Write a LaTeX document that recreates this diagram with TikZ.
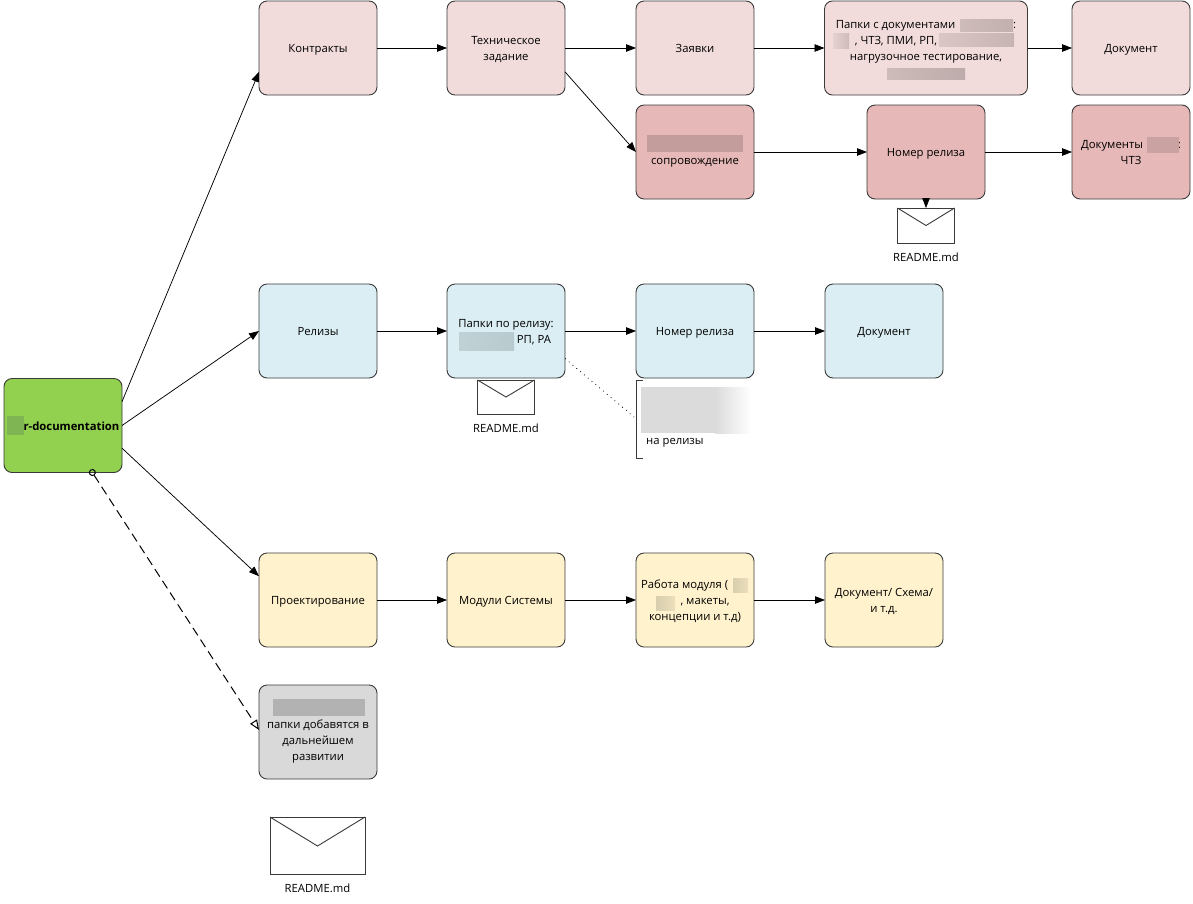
\documentclass[tikz,border=0pt]{standalone}
\usepackage{fontspec}
\setmainfont{Open Sans}
\usetikzlibrary{arrows.meta}
\definecolor{cpink}{HTML}{F2DCDB}
\definecolor{crose}{HTML}{E6B8B7}
\definecolor{cblue}{HTML}{DAEEF3}
\definecolor{cyell}{HTML}{FFF2CC}
\definecolor{cgreen}{HTML}{92D050}
\definecolor{cgrey}{HTML}{D9D9D9}
\definecolor{cline}{HTML}{3A3A3A}
\definecolor{cblurg}{HTML}{80B553}
\newcommand\ls{\rule[-2.8pt]{0pt}{15pt}}
\lineskiplimit=-100pt
\tikzset{
  txt/.style={font=\fontsize{11.3}{16}\selectfont,align=center,text=black},
  box/.style={txt,draw=cline,line width=0.9pt,rounded corners=8pt,minimum width=118pt,minimum height=94pt,inner sep=0pt,outer sep=0pt},
  pinkbox/.style={box,fill=cpink},
  rosebox/.style={box,fill=crose},
  bluebox/.style={box,fill=cblue},
  yellbox/.style={box,fill=cyell},
  greybox/.style={box,fill=cgrey},
  greenbox/.style={box,fill=cgreen,font=\fontsize{11.3}{16}\selectfont\bfseries},
  conn/.style={draw=black,line width=0.75pt,-{Triangle[length=10pt,width=7.5pt]}},
  env/.style={draw=cline,line width=0.9pt,fill=white,inner sep=0pt,outer sep=0pt},
  lab/.style={txt,inner sep=0pt},
  blur/.style={inner sep=0pt,outer sep=0pt}
}
\begin{document}
\begin{tikzpicture}[x=1pt,y=-1pt]
\useasboundingbox (0,0) rectangle (1193,903);
% nodes
\node[greenbox] (root) at (63,425.5) {\ls\hspace*{17pt}r-documentation};
\node[pinkbox] (contr) at (318,48) {\ls Контракты};
\node[pinkbox] (tz) at (506,48) {\ls Техническое\\\ls задание};
\node[pinkbox] (zay) at (695,48) {\ls Заявки};
\node[pinkbox,minimum width=203pt] (pap) at (926,48) {\ls Папки с документами \hspace*{55pt}:\\\ls\hspace*{16pt}, ЧТЗ, ПМИ, РП,\hspace*{76pt}\mbox{}\\\ls нагрузочное тестирование,\\\ls};
\node[pinkbox] (doc) at (1131,48) {\ls Документ};
\node[rosebox] (sop) at (695,152) {\ls\\\ls сопровождение};
\node[rosebox] (nr1) at (926,152) {\ls Номер релиза};
\node[rosebox] (doc2) at (1131,152) {\ls Документы \hspace*{32pt}:\\\ls ЧТЗ};
\node[bluebox] (rel) at (318,331) {\ls Релизы};
\node[bluebox] (prel) at (506,331) {\ls Папки по релизу:\\\ls\hspace*{56pt}РП, РА};
\node[bluebox] (nr2) at (695,331) {\ls Номер релиза};
\node[bluebox] (doc3) at (884,331) {\ls Документ};
\node[yellbox] (proj) at (318,600) {\ls Проектирование};
\node[yellbox] (mod) at (506,600) {\ls Модули Системы};
\node[yellbox] (work) at (695,600) {\ls Работа модуля (\hspace*{18pt},\\\ls\hspace*{20pt}, макеты,\\\ls концепции и т.д)};
\node[yellbox] (doc4) at (884,600) {\ls Документ/ Схема/\\\ls и т.д.};
\node[greybox] (later) at (318,732) {\ls\\\ls папки добавятся в\\\ls дальнейшем\\\ls развитии};
% blurred patches
\fill[blur,color=cblurg] (7,416) rectangle (24,435);
\fill[blur,left color=cpink!85!black,right color=cpink!80!black] (960,19) rectangle (1013,31);
\fill[blur,left color=cpink!95!black,right color=cpink!85!black] (833,33) rectangle (849,48);
\fill[blur,left color=cpink!90!black,right color=cpink!82!black] (939,33) rectangle (1014,46);
\fill[blur,left color=cpink!85!black,right color=cpink!78!black] (887,68) rectangle (965,79);
\fill[blur,color=crose!88!black] (1147,137) rectangle (1179,153);
\fill[blur,color=crose!85!black] (647,135) rectangle (743,152);
\fill[blur,left color=cblue!88!black,right color=cblue!85!black] (459,332) rectangle (514,350);
\fill[blur,left color=cyell!85!black,right color=cyell!92!black] (733,578) rectangle (748,592);
\fill[blur,left color=cyell!85!black,right color=cyell!92!black] (656,596) rectangle (675,610);
\fill[blur,color=cgrey!82!black] (273,699) rectangle (365,716);
\fill[blur,color=black!14] (641,387) rectangle (715,433);
\fill[blur,left color=black!14,right color=white] (715,387) rectangle (751,433);
% envelopes
\node[env,minimum width=57pt,minimum height=35pt] (env1) at (926,225.5) {};
\draw[env,fill=none] (env1.north west) -- (926,225.5) -- (env1.north east);
\node[lab] (t1) at (926,257) {README.md};
\node[env,minimum width=57pt,minimum height=34pt] (env2) at (506,397) {};
\draw[env,fill=none] (env2.north west) -- (506,397) -- (env2.north east);
\node[lab] (t2) at (506,428) {README.md};
\node[env,minimum width=95pt,minimum height=57pt] (env3) at (317.5,845.5) {};
\draw[env,fill=none] (env3.north west) -- (317.5,846) -- (env3.north east);
\node[lab] (t3) at (317.5,888) {README.md};
% note
\node[lab,anchor=west] (note) at (646,443) {на релизы};
\coordinate (nb) at (634,417);
\draw[cline,line width=0.9pt] (643,380) -- (636,380) -- (636,458) -- (643,458);
\draw[black,line width=0.8pt,dash pattern=on 0.8pt off 4.2pt] (prel.-25.5) -- (nb);
% connectors
\draw[conn] (root.22.5) -- (contr.202);
\draw[conn] (root.east) -- (rel.west);
\draw[conn] (root.-21.7) -- (proj.158.7);
\draw[black,line width=1pt,dash pattern=on 9pt off 5pt,shorten <=-3.5pt,{Circle[open,length=7pt,width=7pt,fill=none]}-{Triangle[open,length=10pt,width=8pt,fill=white]}] (root.-58) -- (later.178);
\draw[conn] (contr) -- (tz);
\draw[conn] (tz) -- (zay);
\draw[conn] (zay) -- (pap);
\draw[conn] (pap) -- (doc);
\draw[conn] (tz.-22) -- (sop.west);
\draw[conn] (sop) -- (nr1);
\draw[conn] (nr1) -- (doc2);
\draw[conn] (nr1) -- (env1);
\draw[conn] (rel) -- (prel);
\draw[conn] (prel) -- (nr2);
\draw[conn] (nr2) -- (doc3);
\draw[conn] (proj) -- (mod);
\draw[conn] (mod) -- (work);
\draw[conn] (work) -- (doc4);
\end{tikzpicture}
\end{document}
